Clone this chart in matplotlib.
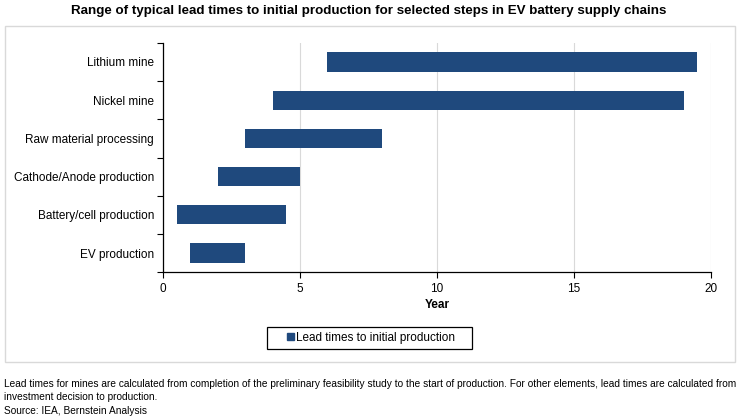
import matplotlib.pyplot as plt
from matplotlib.patches import Rectangle, Patch

# lead time ranges (years), top to bottom
steps = ['Lithium mine', 'Nickel mine', 'Raw material processing',
         'Cathode/Anode production', 'Battery/cell production', 'EV production']
start = [6, 4, 3, 2, 0.5, 1]
end = [19.5, 19, 8, 5, 4.5, 3]
xticks = [0, 5, 10, 15, 20]

BAR = '#1F497D'

plt.rcParams['font.family'] = ['Liberation Sans', 'DejaVu Sans']

fig = plt.figure(figsize=(7.38, 4.2), dpi=100)
ax = fig.add_axes([0.2209, 0.352, 0.7425, 0.546])

ypos = list(range(len(steps)))[::-1]
widths = [e - s for s, e in zip(start, end)]
ax.barh(ypos, widths, left=start, height=0.5, color=BAR, zorder=3)

ax.set_xlim(0, 20)
ax.set_ylim(-0.5, len(steps) - 0.5)
ax.set_xticks(xticks)
ax.set_yticks(ypos)
ax.set_yticklabels(steps)
ax.set_yticks([i - 0.5 for i in range(len(steps) + 1)], minor=True)
ax.tick_params(axis='y', which='major', length=0, labelsize=8.5, pad=6.5)
ax.tick_params(axis='y', which='minor', length=4, width=0.8)
ax.tick_params(axis='x', length=4, width=0.8, labelsize=8.5)
ax.grid(axis='x', color='#d9d9d9', lw=0.8, zorder=0)
for s in ['top', 'right']:
    ax.spines[s].set_visible(False)
for s in ['left', 'bottom']:
    ax.spines[s].set_linewidth(0.9)
ax.set_xlabel('Year', fontsize=8.5, fontweight='bold', labelpad=3)

fig.legend(handles=[Patch(color=BAR, label='Lead times to initial production')],
           loc='center', bbox_to_anchor=(371 / 738, 1 - 338 / 420),
           frameon=False, fontsize=8.5, handlelength=0.55,
           handleheight=0.55, handletextpad=0.2, borderpad=0.0)
# legend box
fig.patches.append(Rectangle((267 / 738, 1 - 349 / 420), 205 / 738, 22 / 420,
                             transform=fig.transFigure, fill=False,
                             edgecolor='black', lw=0.9))

# outer chart border
fig.patches.append(Rectangle((5 / 738, 1 - 362 / 420), 730 / 738, 336 / 420,
                             transform=fig.transFigure, fill=False,
                             edgecolor='#d9d9d9', lw=1))

fig.text(0.5, 1 - 11 / 420, 'Range of typical lead times to initial production for selected steps in EV battery supply chains',
         ha='center', va='center', fontsize=9.6, fontweight='bold')

notes = ['Lead times for mines are calculated from completion of the preliminary feasibility study to the start of production. For other elements, lead times are calculated from',
         'investment decision to production.',
         'Source: IEA, Bernstein Analysis']
for i, line in enumerate(notes):
    fig.text(4 / 738, 1 - (384 + 13.5 * i) / 420, line, ha='left', va='center',
             fontsize=7.25)

fig.savefig('out.png', dpi=100)
